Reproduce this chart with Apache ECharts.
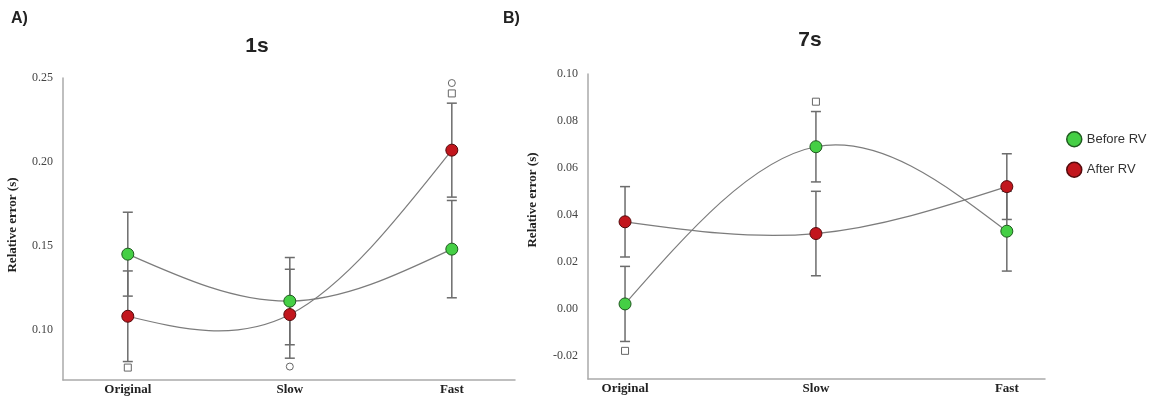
<!DOCTYPE html>
<html>
<head>
<meta charset="utf-8">
<script src="https://cdn.jsdelivr.net/npm/echarts@6/dist/echarts.min.js"></script>
<style>
  html, body { margin: 0; padding: 0; background: #fff; }
  #chart { width: 1160px; height: 403px; }
</style>
</head>
<body>
<div id="chart"></div>
<script>
// categories on the x axis (both panels)
const categories = ["Original", "Slow", "Fast"];

// panel A (1s)
const beforeA = [0.145, 0.117, 0.148];
const beforeALow = [0.120, 0.091, 0.119];
const beforeAHigh = [0.170, 0.143, 0.177];
const afterA = [0.108, 0.109, 0.207];
const afterALow = [0.081, 0.083, 0.179];
const afterAHigh = [0.135, 0.136, 0.235];
const outRectA = [[0, 0.0774], [2, 0.2408]];
const outCircleA = [[1, 0.078], [2, 0.247]];
const ticksA = [0.10, 0.15, 0.20, 0.25];

// panel B (7s)
const beforeB = [0.002, 0.069, 0.033];
const beforeBLow = [-0.014, 0.054, 0.016];
const beforeBHigh = [0.018, 0.084, 0.050];
const afterB = [0.037, 0.032, 0.052];
const afterBLow = [0.022, 0.014, 0.038];
const afterBHigh = [0.052, 0.050, 0.066];
const outRectB = [[0, -0.018], [1, 0.0882]];
const ticksB = [-0.02, 0.00, 0.02, 0.04, 0.06, 0.08, 0.10];

const GREEN = "#45cf45";
const GREEN_EDGE = "#1f5a1f";
const RED = "#c2161d";
const RED_EDGE = "#550a0c";
const CURVE = "#7c7c7c";
const BAR = "#6c6c6c";

const toXY = (vals) => vals.map((v, i) => [i, v]);
const toBars = (lo, hi) => lo.map((v, i) => [i, v, hi[i]]);

// natural cubic spline slopes at each knot (x step = 1)
const splineSlopes = (y) => {
    const n = y.length;
    const M = new Array(n).fill(0);
    if (n > 2) {
        // tridiagonal solve for inner second derivatives
        const a = [], r = [];
        for (let i = 1; i < n - 1; i++) {
            a.push(4);
            r.push(6 * (y[i - 1] - 2 * y[i] + y[i + 1]));
        }
        for (let i = 1; i < a.length; i++) {
            const m = 1 / a[i - 1];
            a[i] -= m;
            r[i] -= m * r[i - 1];
        }
        for (let i = a.length - 1; i >= 0; i--) {
            const next = i + 1 < a.length ? M[i + 2] : 0;
            M[i + 1] = (r[i] - next) / a[i];
        }
    }
    const s = [];
    for (let i = 0; i < n - 1; i++) {
        s.push((y[i + 1] - y[i]) - (2 * M[i] + M[i + 1]) / 6);
    }
    s.push((y[n - 1] - y[n - 2]) + (M[n - 2] + 2 * M[n - 1]) / 6);
    return s;
};

// one item per segment: [x0, y0, x1, y1, slope0, slope1]
const toSegments = (vals) => {
    const s = splineSlopes(vals);
    const segs = [];
    for (let i = 0; i < vals.length - 1; i++) {
        segs.push([i, vals[i], i + 1, vals[i + 1], s[i], s[i + 1]]);
    }
    return segs;
};

const renderCurve = (params, api) => {
    const x0 = api.value(0), y0 = api.value(1), x1 = api.value(2), y1 = api.value(3);
    const s0 = api.value(4), s1 = api.value(5);
    const h = x1 - x0;
    const p0 = api.coord([x0, y0]);
    const p1 = api.coord([x1, y1]);
    const c0 = api.coord([x0 + h / 3, y0 + s0 * h / 3]);
    const c1 = api.coord([x1 - h / 3, y1 - s1 * h / 3]);
    return {
        type: "bezierCurve",
        shape: { x1: p0[0], y1: p0[1], x2: p1[0], y2: p1[1], cpx1: c0[0], cpy1: c0[1], cpx2: c1[0], cpy2: c1[1] },
        style: { stroke: CURVE, lineWidth: 1.2, fill: null }
    };
};

// error bar: vertical line plus caps
const renderBar = (params, api) => {
    const lo = api.coord([api.value(0), api.value(1)]);
    const hi = api.coord([api.value(0), api.value(2)]);
    const w = 5;
    const style = { stroke: BAR, lineWidth: 1.5 };
    return {
        type: "group",
        children: [
            { type: "line", shape: { x1: lo[0], y1: lo[1], x2: hi[0], y2: hi[1] }, style },
            { type: "line", shape: { x1: lo[0] - w, y1: lo[1], x2: lo[0] + w, y2: lo[1] }, style },
            { type: "line", shape: { x1: hi[0] - w, y1: hi[1], x2: hi[0] + w, y2: hi[1] }, style }
        ]
    };
};

const curveSeries = (vals, idx) => ({
    type: "custom",
    xAxisIndex: idx,
    yAxisIndex: idx,
    data: toSegments(vals),
    renderItem: renderCurve,
    z: 4,
    silent: true
});

const pointSeries = (name, vals, idx, color, edge) => ({
    name: name,
    type: "scatter",
    xAxisIndex: idx,
    yAxisIndex: idx,
    data: toXY(vals),
    symbol: "circle",
    symbolSize: 12,
    z: 5,
    itemStyle: { color: color, borderColor: edge, borderWidth: 1, opacity: 1 }
});

const barSeries = (lo, hi, idx) => ({
    type: "custom",
    xAxisIndex: idx,
    yAxisIndex: idx,
    data: toBars(lo, hi),
    renderItem: renderBar,
    z: 2,
    silent: true
});

const outlierSeries = (pts, sym, idx) => ({
    type: "scatter",
    xAxisIndex: idx,
    yAxisIndex: idx,
    data: pts,
    symbol: sym,
    symbolSize: 7,
    z: 3,
    itemStyle: { color: "#fff", borderColor: "#666", borderWidth: 1, opacity: 1 }
});

const xAxisBase = (idx, min, max) => ({
    type: "value",
    gridIndex: idx,
    min: min,
    max: max,
    splitLine: { show: false },
    axisTick: { show: false },
    axisLine: { onZero: false, lineStyle: { color: "#aaa", width: 1.5 } },
    axisLabel: {
        customValues: [0, 1, 2],
        formatter: (v) => categories[Math.round(v)] || "",
        fontFamily: "Liberation Serif",
        fontWeight: "bold",
        fontSize: 13,
        color: "#222",
        margin: 3
    }
});

const yAxisBase = (idx, min, max, ticks) => ({
    type: "value",
    gridIndex: idx,
    min: min,
    max: max,
    splitLine: { show: false },
    axisTick: { show: false },
    axisLine: { show: true, onZero: false, lineStyle: { color: "#aaa", width: 1.5 } },
    axisLabel: {
        customValues: ticks,
        formatter: (v) => v.toFixed(2),
        fontFamily: "Liberation Serif",
        fontSize: 12,
        color: "#444",
        margin: 10
    }
});

const yName = (x, y) => ({
    type: "text",
    x: x,
    y: y,
    rotation: Math.PI / 2,
    style: {
        text: "Relative error (s)",
        font: "bold 13px 'Liberation Serif'",
        fill: "#222",
        align: "center",
        verticalAlign: "middle"
    }
});

const chart = echarts.init(document.getElementById("chart"), null, { renderer: "canvas" });
chart.setOption({
    animation: false,
    backgroundColor: "#fff",
    title: [
        { text: "A)", left: 11, top: 11, padding: 0, textStyle: { fontFamily: "Liberation Sans", fontWeight: "bold", fontSize: 16, color: "#222" } },
        { text: "1s", left: 257, top: 36, padding: 0, textAlign: "center", textStyle: { fontFamily: "Liberation Sans", fontWeight: "bold", fontSize: 21, color: "#222" } },
        { text: "B)", left: 503, top: 11, padding: 0, textStyle: { fontFamily: "Liberation Sans", fontWeight: "bold", fontSize: 16, color: "#222" } },
        { text: "7s", left: 810, top: 30, padding: 0, textAlign: "center", textStyle: { fontFamily: "Liberation Sans", fontWeight: "bold", fontSize: 21, color: "#222" } }
    ],
    legend: {
        orient: "vertical",
        left: 1061,
        top: 126,
        itemGap: 14,
        itemWidth: 15,
        itemHeight: 15,
        icon: "circle",
        textStyle: { fontFamily: "Liberation Sans", fontSize: 13, color: "#333" },
        data: [
            { name: "Before RV", itemStyle: { color: GREEN, borderColor: GREEN_EDGE, borderWidth: 1.5 } },
            { name: "After RV", itemStyle: { color: RED, borderColor: RED_EDGE, borderWidth: 1.5 } }
        ]
    },
    grid: [
        { left: 63, top: 78, width: 452, height: 302 },
        { left: 588, top: 74, width: 457, height: 305 }
    ],
    xAxis: [
        xAxisBase(0, -0.40, 2.39),
        xAxisBase(1, -0.194, 2.2)
    ],
    yAxis: [
        yAxisBase(0, 0.07, 0.25, ticksA),
        yAxisBase(1, -0.03, 0.10, ticksB)
    ],
    graphic: [yName(13, 225), yName(533, 200)],
    series: [
        barSeries(beforeALow, beforeAHigh, 0),
        barSeries(afterALow, afterAHigh, 0),
        outlierSeries(outRectA, "rect", 0),
        outlierSeries(outCircleA, "circle", 0),
        curveSeries(beforeA, 0),
        curveSeries(afterA, 0),
        pointSeries("Before RV", beforeA, 0, GREEN, GREEN_EDGE),
        pointSeries("After RV", afterA, 0, RED, RED_EDGE),
        barSeries(beforeBLow, beforeBHigh, 1),
        barSeries(afterBLow, afterBHigh, 1),
        outlierSeries(outRectB, "rect", 1),
        curveSeries(beforeB, 1),
        curveSeries(afterB, 1),
        pointSeries("Before RV", beforeB, 1, GREEN, GREEN_EDGE),
        pointSeries("After RV", afterB, 1, RED, RED_EDGE)
    ]
});
</script>
</body>
</html>
